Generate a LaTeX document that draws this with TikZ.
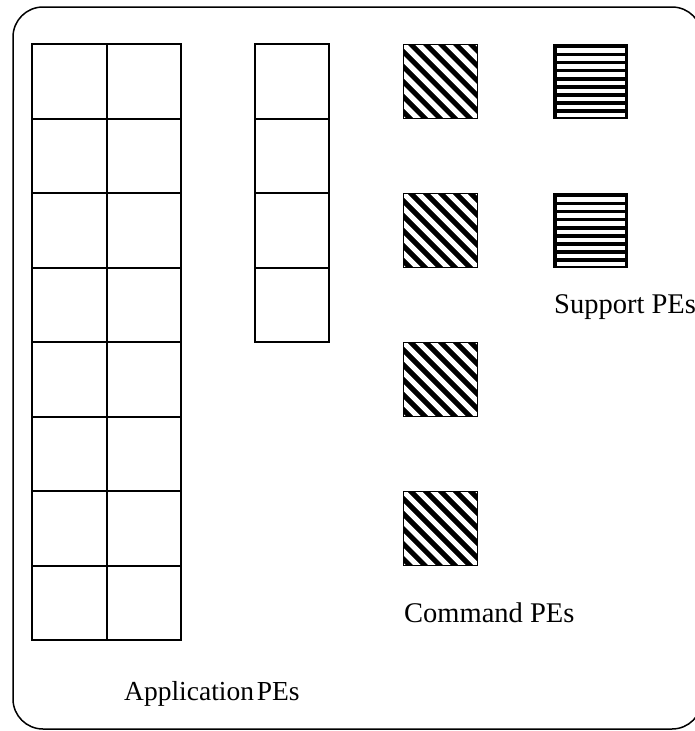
\documentclass[tikz,border=0pt]{standalone}
\usepackage{fontspec}
\setmainfont{Liberation Serif}
\usetikzlibrary{calc}
\begin{document}
\begin{tikzpicture}[x=1pt,y=-1pt,
  cell/.style={draw, line width=2pt, minimum width=74.5pt, minimum height=74.5pt, inner sep=0pt, outer sep=0pt},
  diagbox/.style={draw, line width=1.5pt, fill=black, minimum size=74pt, inner sep=0pt,
    path picture={
      \foreach \k in {-7,...,7}{
        \draw[white, line width=5.3pt] ($(path picture bounding box.center)+(\k*15,0)+(-70,-70)$) -- ++(140,140);
      }
    }},
  horbox/.style={draw, line width=1.5pt, fill=black, minimum size=74pt, inner sep=0pt,
    path picture={
      \foreach \k in {0,...,8}{
        \fill[white] ($(path picture bounding box.north west)+(3,3.6+\k*8.1)$) rectangle ++(68,4.4);
      }
    }},
  lbl/.style={anchor=base west, inner sep=0pt, font=\fontsize{28.5}{31}\selectfont}
]
\useasboundingbox (0,0) rectangle (695,731);
\clip (0,0) rectangle (695,731);
\node[draw, line width=1.5pt, rounded corners=30pt, minimum width=689pt, minimum height=722pt, inner sep=0pt] (frame) at (357.5,368) {};
% application grid 8x2
\foreach \r in {0,...,7}{
  \node[cell] (a\r l) at (69.5, 81.25+\r*74.5) {};
  \node[cell] (a\r r) at (144, 81.25+\r*74.5) {};
}
% second column 4 rows
\foreach \r in {0,...,3}{
  \node[cell] (b\r) at (292, 81.25+\r*74.5) {};
}
% command PEs
\foreach \r/\y in {0/81.5,1/230.5,2/379.5,3/528.5}{
  \node[diagbox] (c\r) at (440.5,\y) {};
}
% support PEs
\foreach \r/\y in {0/81.5,1/230.5}{
  \node[horbox] (s\r) at (590.5,\y) {};
}
\node[lbl, font=\fontsize{27.5}{30}\selectfont] (applbl) at (124,700) {Application\hspace{0.1em}PEs};
\node[lbl] (cmdlbl) at (404,622) {Command PEs};
\node[lbl] (suplbl) at (554,313) {Support PEs};
\end{tikzpicture}
\end{document}
